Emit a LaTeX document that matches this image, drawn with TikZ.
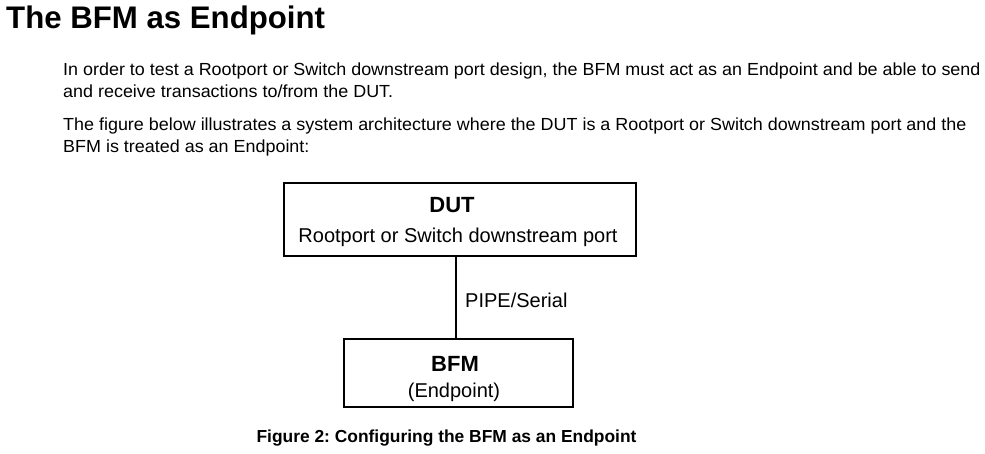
\documentclass[tikz,border=0pt]{standalone}
\usepackage{fontspec}
\setmainfont{Liberation Sans}
\newfontfamily\bodyfont[FakeStretch=1.025]{Liberation Sans}
\begin{document}
\frenchspacing
\begin{tikzpicture}[x=1pt,y=-1pt,
  txt/.style={inner sep=0pt,anchor=base west,font=\bodyfont\fontsize{17.5}{20}\selectfont},
  box/.style={draw,line width=1.1pt,inner sep=0pt},
  lbl/.style={inner sep=0pt,anchor=base,font=\fontsize{20}{24}\selectfont},
  blbl/.style={inner sep=0pt,anchor=base,font=\bfseries\fontsize{22}{26}\selectfont}]
\useasboundingbox (0,0) rectangle (985,453);
\node[inner sep=0pt,anchor=base west,font=\bfseries\fontsize{31.2}{36}\selectfont] (title) at (6,28) {The BFM as Endpoint};
\node[txt] (p1a) at (63,75) {In order to test a Rootport or Switch downstream port design, the BFM must act as an Endpoint and be able to send};
\node[txt] (p1b) at (63,97) {and receive transactions to/from the DUT.};
\node[txt] (p2a) at (63,130) {The figure below illustrates a system architecture where the DUT is a Rootport or Switch downstream port and the};
\node[txt] (p2b) at (63,152) {BFM is treated as an Endpoint:};
\node[box,minimum width=352,minimum height=73] (dut) at (460,219.5) {};
\node[blbl] (dutt) at (452,212) {DUT};
\node[lbl] (duts) at (458,242) {Rootport or Switch downstream port};
\node[box,minimum width=229,minimum height=68] (bfm) at (458.5,373) {};
\node[blbl] (bfmt) at (455,371) {BFM};
\node[lbl] (bfms) at (454,397) {(Endpoint)};
\coordinate (lx) at (456,0);
\draw[line width=1.1pt] (dut.south -| lx) -- (bfm.north -| lx);
\node[lbl,anchor=base west] (pipe) at (465,307) {PIPE/Serial};
\node[inner sep=0pt,anchor=base,font=\bfseries\fontsize{17.4}{20}\selectfont] (cap) at (446.5,442) {Figure 2: Configuring the BFM as an Endpoint};
\end{tikzpicture}
\end{document}
